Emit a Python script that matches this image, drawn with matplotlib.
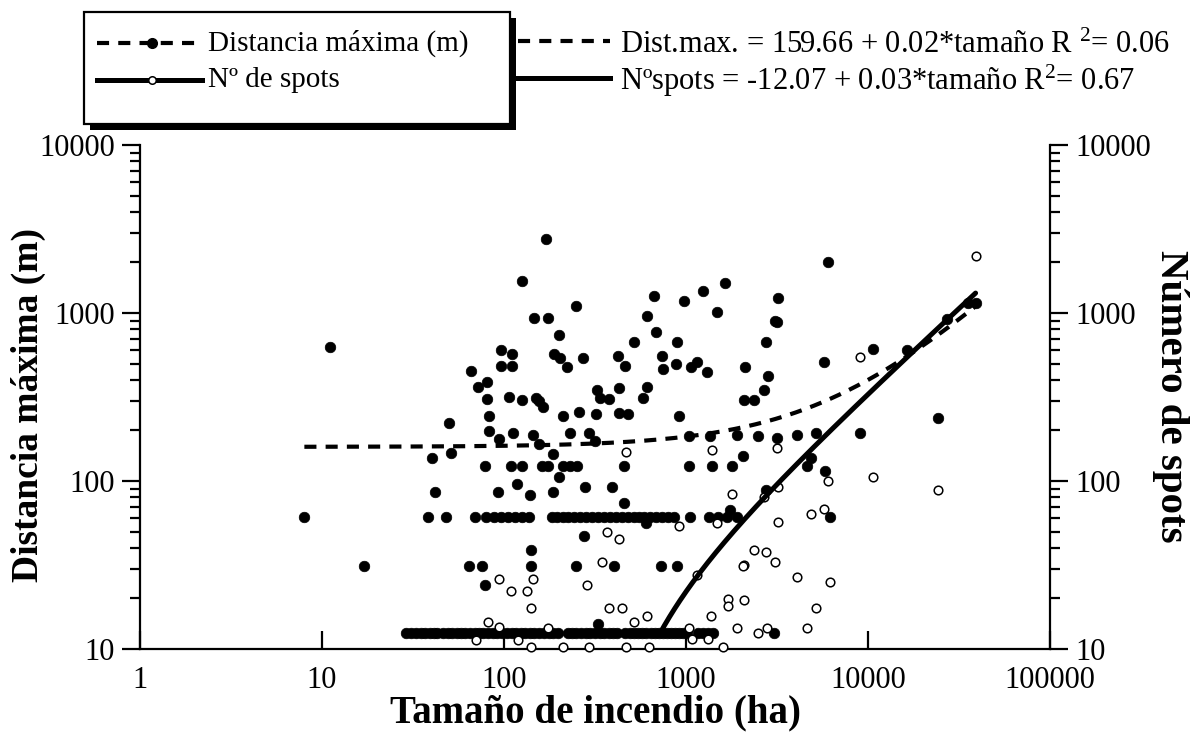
import numpy as np
import matplotlib
matplotlib.use("Agg")
import matplotlib.pyplot as plt
from matplotlib.lines import Line2D
from matplotlib.patches import Rectangle
from matplotlib.ticker import LogLocator, NullFormatter, FixedLocator, FixedFormatter

plt.rcParams['font.family'] = ['Liberation Serif', 'DejaVu Serif']
plt.rcParams['mathtext.fontset'] = 'custom'
plt.rcParams['mathtext.rm'] = 'Liberation Serif'
plt.rcParams['mathtext.it'] = 'Liberation Serif:italic'
plt.rcParams['mathtext.bf'] = 'Liberation Serif:bold'

# ---------------------------------------------------------------------------
# Data: fire size (ha) against maximum spotting distance (m) and number of spots
# ---------------------------------------------------------------------------
dist_size = [
    8, 11, 17,
    40, 42, 50, 51, 66, 72, 81, 81, 83, 83, 94, 96, 110, 96, 110, 106, 112,
    79, 109, 118, 93,
    125, 146, 175, 170, 250, 200, 126, 150, 156, 163, 145, 188, 203, 221, 272,
    210, 259, 230, 294, 323, 337, 377, 322, 428, 428, 482, 425, 462, 518, 613,
    670, 687, 613, 578, 741, 748, 889, 878, 980, 1060, 1150, 1300, 1245, 1640,
    1475, 915, 155, 316,
    6050, 3200, 3100, 3180, 2750, 2100, 2830, 2680, 2090, 2370, 5750, 10700,
    24300, 39000, 35500, 27000, 16300, 9000, 5180, 4050, 3150, 2500, 1900,
    1040, 1355,
    125, 161, 175, 212, 230, 251, 458, 1042, 1395, 1780, 4600,
    139, 187, 279, 391, 2760,
    187, 201, 458, 600, 275, 140,
    64, 76, 140, 249, 402, 729, 896, 79,
    2065, 4860, 5800, 1745, 330,
    # 60 m row
    38, 48, 69, 80, 88, 96, 105, 115, 126, 138, 183, 195, 210, 226, 243, 262,
    282, 303, 330, 355, 383, 412, 444, 478, 515, 555, 590, 635, 685, 740, 800,
    860, 1050, 1330, 1500, 1680, 1900, 6200,
    # 12 m row
    29, 31, 33, 35, 37, 39, 41, 43, 46, 49, 52, 55, 58, 61, 65, 69, 73, 77,
    82, 87, 92, 98, 104, 110, 117, 124, 131, 139, 147, 156, 166, 176, 186, 198,
    224, 236, 250, 265, 281, 298, 316, 335, 355, 376, 399, 420, 465, 490, 515,
    545, 575, 605, 640, 675, 710, 745, 790, 830, 875, 920, 965, 1010, 1170,
    1240, 1320, 1400, 3050,
]
dist_value = [
    61, 628, 31,
    138, 86, 220, 146, 452, 362, 387, 306, 244, 199, 177, 603, 570, 485, 485, 315, 192,
    122, 122, 96, 86,
    1550, 930, 930, 2750, 1100, 740, 305, 313, 300, 275, 187, 570, 537, 480, 537,
    244, 259, 194, 192, 349, 310, 306, 250, 356, 254, 251, 555, 485, 670, 960,
    1260, 770, 364, 310, 555, 466, 670, 497, 1180, 480, 513, 444, 1360, 1510,
    1010, 244, 165, 172,
    2000, 1220, 900, 880, 670, 480, 424, 349, 303, 303, 510, 610,
    236, 1150, 1150, 920, 600, 194, 194, 188, 180, 185, 188,
    185, 185,
    122, 122, 122, 122, 122, 122, 122, 122, 122, 122, 122,
    83, 86, 92, 92, 89,
    145, 105, 74, 56, 47, 39,
    31, 31, 31, 31, 31, 31, 31, 24,
    141, 138, 114, 67, 14,
    61, 61, 61, 61, 61, 61, 61, 61, 61, 61, 61, 61, 61, 61, 61, 61,
    61, 61, 61, 61, 61, 61, 61, 61, 61, 61, 61, 61, 61, 61, 61,
    61, 61, 61, 61, 61, 61, 61,
    12.5, 12.5, 12.5, 12.5, 12.5, 12.5, 12.5, 12.5, 12.5, 12.5, 12.5, 12.5,
    12.5, 12.5, 12.5, 12.5, 12.5, 12.5, 12.5, 12.5, 12.5, 12.5, 12.5, 12.5,
    12.5, 12.5, 12.5, 12.5, 12.5, 12.5, 12.5, 12.5, 12.5, 12.5, 12.5, 12.5,
    12.5, 12.5, 12.5, 12.5, 12.5, 12.5, 12.5, 12.5, 12.5, 12.5, 12.5, 12.5,
    12.5, 12.5, 12.5, 12.5, 12.5, 12.5, 12.5, 12.5, 12.5, 12.5, 12.5, 12.5,
    12.5, 12.5, 12.5, 12.5, 12.5, 12.5, 12.5,
]

spots_size = [
    94, 109, 82, 94, 70, 120,
    466, 1395, 915, 1475, 367, 428, 347, 285, 144, 133, 140, 377, 446, 1150,
    518, 613, 174, 1367, 1700, 1700, 1040, 1075, 1326, 140, 212, 293, 466, 626,
    1600,
    9000, 39000, 10600, 24300,
    3150, 6050, 3200, 2690, 1800, 3190, 4860, 5750, 2360, 2750, 3100, 2080,
    2060, 4090, 6200, 2080, 5180, 1910, 2500, 2800, 4640,
]
spots_value = [
    26, 22, 14.5, 13.5, 11.3, 11.3,
    149, 153, 54, 56, 50, 45, 33, 24, 26, 22, 17.5, 17.5, 17.5, 27.5,
    14.4, 15.7, 13.4, 15.7, 19.8, 18, 13.4, 11.4, 11.4, 10.3, 10.3, 10.3, 10.3, 10.3,
    10.3,
    550, 2180, 106, 88,
    157, 100, 92, 80, 84, 57, 64, 68, 39, 38, 33, 31.6,
    31, 27, 25, 19.6, 17.5, 13.4, 12.5, 13.4, 13.4,
]

# Linear fits (intercept, slope) as reported in the equations
dist_fit = (159.66, 0.024)
spots_fit = (-12.07, 0.034)

x_ticks = [1, 10, 100, 1000, 10000, 100000]
x_tick_labels = ['1', '10', '100', '1000', '10000', '100000']
y_ticks = [10, 100, 1000, 10000]
y_tick_labels = ['10', '100', '1000', '10000']

# ---------------------------------------------------------------------------
W, H = 1195, 744
fig = plt.figure(figsize=(W / 100, H / 100), dpi=100)
ax = fig.add_axes([140 / W, 1 - 649 / H, 910 / W, 504 / H])

ax.set_xscale('log')
ax.set_yscale('log')
ax.set_xlim(1, 1e5)
ax.set_ylim(10, 1e4)

# fitted lines
all_sizes = np.array(dist_size + spots_size, dtype=float)
xf = np.geomspace(all_sizes.min(), all_sizes.max(), 400)
ax.plot(xf, dist_fit[0] + dist_fit[1] * xf, color='black', lw=3.0,
        linestyle=(0, (2.9, 2.2)), solid_capstyle='butt', zorder=5)
xs = np.geomspace(720, all_sizes.max(), 300)
ax.plot(xs, spots_fit[0] + spots_fit[1] * xs, color='black', lw=3.6,
        solid_capstyle='round', zorder=6)

# points
ax.plot(dist_size, dist_value, linestyle='none', marker='o', ms=7.6,
        mfc='black', mec='black', mew=0.5, zorder=3, clip_on=False)
ax.plot(spots_size, spots_value, linestyle='none', marker='o', ms=6.2,
        mfc='white', mec='black', mew=1.1, zorder=4, clip_on=False)

# axes styling
for side in ('left', 'right', 'bottom'):
    ax.spines[side].set_linewidth(1.6)
ax.spines['top'].set_visible(False)

ax.xaxis.set_major_locator(FixedLocator(x_ticks))
ax.xaxis.set_major_formatter(FixedFormatter(x_tick_labels))
ax.xaxis.set_minor_locator(FixedLocator([]))
ax.tick_params(axis='x', which='major', direction='in', length=13, width=1.6,
               labelsize=22, pad=12, top=False)

ax.yaxis.set_major_locator(FixedLocator(y_ticks))
ax.yaxis.set_major_formatter(FixedFormatter(y_tick_labels))
ax.yaxis.set_minor_locator(LogLocator(base=10, subs=range(2, 10)))
ax.yaxis.set_minor_formatter(NullFormatter())
ax.tick_params(axis='y', which='major', direction='out', length=13, width=1.6,
               labelsize=22, pad=5, right=False)
ax.tick_params(axis='y', which='minor', direction='out', length=7.5, width=1.6,
               right=False)

ax2 = ax.twinx()
ax2.set_yscale('log')
ax2.set_ylim(10, 1e4)
for side in ('left', 'right', 'bottom', 'top'):
    ax2.spines[side].set_visible(False)
ax2.yaxis.set_major_locator(FixedLocator(y_ticks))
ax2.yaxis.set_major_formatter(FixedFormatter(y_tick_labels))
ax2.yaxis.set_minor_locator(LogLocator(base=10, subs=range(2, 10)))
ax2.yaxis.set_minor_formatter(NullFormatter())
ax2.tick_params(axis='y', which='major', direction='out', length=13, width=1.6,
                labelsize=22, pad=5)
ax2.tick_params(axis='y', which='minor', direction='out', length=7.5, width=1.6)

# axis titles
fig.text(595 / W, 1 - 713 / H, 'Tamaño de incendio (ha)', fontsize=28,
         fontweight='bold', ha='center', va='center')
fig.text(28 / W, 1 - 405 / H, 'Distancia máxima (m)', fontsize=27,
         fontweight='bold', ha='center', va='center', rotation=90)
fig.text(1170 / W, 1 - 396 / H, 'Número de spots', fontsize=29.5,
         fontweight='bold', ha='center', va='center', rotation=270)

# ---------------------------------------------------------------------------
# Legend box with drop shadow and regression equations (pixel coordinates)
# ---------------------------------------------------------------------------
ov = fig.add_axes([0, 0, 1, 1], zorder=10)
ov.set_xlim(0, W)
ov.set_ylim(H, 0)
ov.axis('off')

bx0, by0, bx1, by1 = 84, 12, 510, 124
ov.add_patch(Rectangle((bx0 + 6, by0 + 6), bx1 - bx0, by1 - by0,
                       facecolor='black', edgecolor='black', lw=0))
ov.add_patch(Rectangle((bx0, by0), bx1 - bx0, by1 - by0,
                       facecolor='white', edgecolor='black', lw=1.6))

row1, row2 = 43, 80
ov.add_line(Line2D([97, 202], [row1, row1], color='black', lw=3.0,
                   linestyle=(0, (2.9, 2.2))))
ov.add_line(Line2D([152], [row1], color='black', marker='o', ms=7.0,
                   linestyle='none'))
ov.add_line(Line2D([97, 202], [row2, row2], color='black', lw=3.6))
ov.add_line(Line2D([152], [row2], marker='o', ms=5.4, mfc='white',
                   mec='black', mew=1.1, linestyle='none'))
ov.text(208, row1, 'Distancia máxima (m)', fontsize=21, va='center', ha='left')
ov.text(208, row2, 'Nº de spots', fontsize=21, va='center', ha='left')

ov.add_line(Line2D([518, 610], [row1 - 2, row1 - 2], color='black', lw=3.0,
                   linestyle=(0, (2.9, 2.2))))
ov.add_line(Line2D([518, 610], [row2 - 2, row2 - 2], color='black', lw=3.6))
ov.text(620, row1 + 2, 'Dist.max. = 159.66 + 0.02*tamaño R $^{2}$= 0.06',
        fontsize=22, va='center', ha='left')
ov.text(620, row2 + 1, 'Nºspots = -12.07 + 0.03*tamaño R$^{2}$= 0.67',
        fontsize=22, va='center', ha='left')

fig.savefig('out.png', dpi=100)
